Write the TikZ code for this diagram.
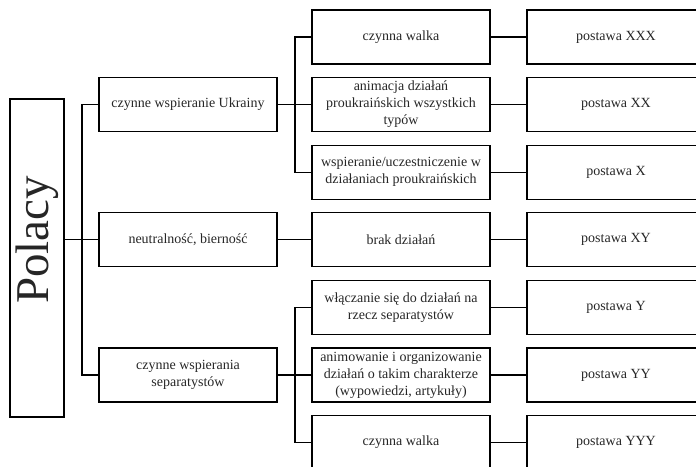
\documentclass[tikz,border=0pt]{standalone}
\usepackage{fontspec}
\setmainfont{Liberation Serif}
\usepackage{tikz}
\usetikzlibrary{positioning}

\begin{document}
\begin{tikzpicture}
    [
        x=1pt, y=-1pt,
        boxnode/.style={rectangle, draw=black, line width=1.2pt, minimum width=178pt, minimum height=54pt, inner xsep=2pt, inner ysep=1pt, align=center, text=black!85, font=\fontsize{14}{17}\selectfont},
        polacybox/.style={rectangle, draw=black, line width=1.2pt, minimum width=54pt, minimum height=318pt},
        polacytext/.style={rotate=90, text=black!85, font=\fontsize{47}{50}\selectfont},
        link/.style={draw=black, line width=1.2pt},
    ]

    \useasboundingbox (0,0) rectangle (696,466);
    \clip (0,0) rectangle (696,466);

    \node[polacybox] (polacy) at (37,258) {};
    \node[polacytext] (polacy_text) at (37,240) {Polacy};

    \node[boxnode] (ukraina) at (188,104.6) {czynne wspieranie Ukrainy};
    \node[boxnode] (neutral) at (188,239.8) {neutralność, bierność};
    \node[boxnode] (separ) at (188,375) {czynne wspierania\\separatystów};

    \node[boxnode] (walka_ukr) at (401,37) {czynna walka};
    \node[boxnode] (animacja) at (401,104.6) {animacja działań\\proukraińskich wszystkich\\typów};
    \node[boxnode] (wspieranie) at (401,172.2) {wspieranie/uczestniczenie w\\działaniach proukraińskich};
    \node[boxnode] (brak) at (401,239.8) {brak działań};
    \node[boxnode] (wlaczanie) at (401,307.4) {włączanie się do działań na\\rzecz separatystów};
    \node[boxnode] (animowanie) at (401,375) {animowanie i organizowanie\\działań o takim charakterze\\(wypowiedzi, artykuły)};
    \node[boxnode] (walka_sep) at (401,442.6) {czynna walka};

    \node[boxnode] (postawa_xxx) [right=35.8pt of walka_ukr] {postawa XXX};
    \node[boxnode] (postawa_xx) [right=35.8pt of animacja] {postawa XX};
    \node[boxnode] (postawa_x) [right=35.8pt of wspieranie] {postawa X};
    \node[boxnode] (postawa_xy) [right=35.8pt of brak] {postawa XY};
    \node[boxnode] (postawa_y) [right=35.8pt of wlaczanie] {postawa Y};
    \node[boxnode] (postawa_yy) [right=35.8pt of animowanie] {postawa YY};
    \node[boxnode] (postawa_yyy) [right=35.8pt of walka_sep] {postawa YYY};

    \coordinate (bus_main) at (82,239.8);
    \coordinate (bus_ukr) at (295,104.6);
    \coordinate (bus_sep) at (295,375);

    \draw[link] (polacy.east |- neutral.west) -- (neutral.west);
    \draw[link] (ukraina.west) -| (bus_main) |- (separ.west);

    \draw[link] (ukraina.east) -- (bus_ukr) -- (animacja.west);
    \draw[link] (walka_ukr.west) -| (bus_ukr) |- (wspieranie.west);
    \draw[link] (neutral.east) -- (brak.west);
    \draw[link] (separ.east) -- (bus_sep) -- (animowanie.west);
    \draw[link] (wlaczanie.west) -| (bus_sep) |- (walka_sep.west);

    \draw[link] (walka_ukr.east) -- (postawa_xxx.west);
    \draw[link] (animacja.east) -- (postawa_xx.west);
    \draw[link] (wspieranie.east) -- (postawa_x.west);
    \draw[link] (brak.east) -- (postawa_xy.west);
    \draw[link] (wlaczanie.east) -- (postawa_y.west);
    \draw[link] (animowanie.east) -- (postawa_yy.west);
    \draw[link] (walka_sep.east) -- (postawa_yyy.west);

\end{tikzpicture}
\end{document}
